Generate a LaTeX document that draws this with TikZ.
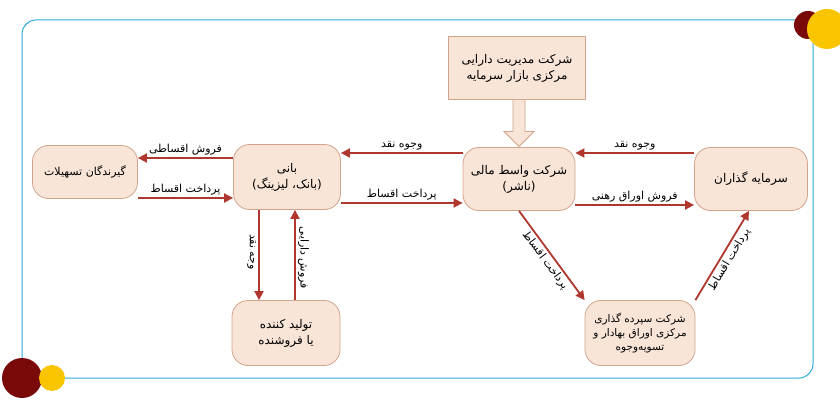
\documentclass[tikz,border=0pt]{standalone}
\usepackage{fontspec}
\newfontfamily\fa[Script=Arabic]{DejaVu Sans}
\TeXXeTstate=1
\usetikzlibrary{arrows.meta,shapes.arrows}
\definecolor{boxfill}{HTML}{F9E4D8}
\definecolor{boxline}{HTML}{D2A48C}
\definecolor{arr}{HTML}{B0372E}
\definecolor{frame}{HTML}{2AAAD8}
\definecolor{dred}{HTML}{7A0A0A}
\definecolor{gold}{HTML}{F9C400}
\newcommand{\R}[1]{\beginR #1\endR}
\begin{document}
\begin{tikzpicture}[x=1pt,y=-1pt,
  ent/.style={draw=boxline,fill=boxfill,rounded corners=16pt,line width=0.8pt,align=center,font=\fa\fontsize{12}{16}\selectfont},
  arrw/.style={draw=arr,line width=1.8pt,-{Triangle[length=9pt,width=9pt]}},
  lab/.style={font=\fa\fontsize{11}{12}\selectfont,text=black,inner sep=2pt}]
\useasboundingbox (0,0) rectangle (840,403);
\draw[frame,line width=1pt,rounded corners=14pt] (22,20) rectangle (813,378);
\fill[dred] (808,25) circle (14);
\fill[gold] (827,29) circle (20);
\fill[dred] (22,378) circle (20);
\fill[gold] (52,378) circle (13);
\node[draw=boxline,fill=boxfill,line width=0.8pt,minimum width=137pt,minimum height=63pt,align=center,font=\fa\fontsize{12}{16}\selectfont] (amc) at (517,68) {\R{شرکت مدیریت دارایی}\\\R{مرکزی بازار سرمایه}};
\node[ent,minimum width=105pt,minimum height=53pt,inner sep=1pt,font=\fa\fontsize{11}{15}\selectfont] (borr) at (85,172) {\R{گیرندگان تسهیلات}};
\node[ent,minimum width=107pt,minimum height=65pt] (bank) at (287,177) {\R{بانی}\\\R{(بانک، لیزینگ)}};
\node[ent,minimum width=112pt,minimum height=63pt] (inter) at (519,179) {\R{شرکت واسط مالی}\\\R{(ناشر)}};
\node[ent,minimum width=113pt,minimum height=63pt] (inv) at (751,179) {\R{سرمایه گذاران}};
\node[ent,minimum width=108pt,minimum height=65pt] (prod) at (286,333) {\R{تولید کننده}\\\R{یا فروشنده}};
\node[ent,minimum width=110pt,minimum height=65pt,inner sep=1pt,font=\fa\fontsize{10.5}{14}\selectfont] (dep) at (640,333) {\R{شرکت سپرده گذاری}\\\R{مرکزی اوراق بهادار و}\\\R{تسویه‌وجوه}};
\node[single arrow,shape border rotate=270,draw=boxline,fill=boxfill,line width=0.8pt,minimum width=30pt,single arrow head extend=5pt,single arrow tip angle=90,minimum height=47pt,anchor=tip,inner sep=3pt] (hol) at (inter.north) {};
\draw[arrw] ([yshift=19pt]bank.west) -- node[lab,above]{\R{فروش اقساطی}} ([yshift=14pt]borr.east);
\draw[arrw] ([yshift=-26pt]borr.east) -- node[lab,above]{\R{پرداخت اقساط}} ([yshift=-21pt]bank.west);
\draw[arrw] ([yshift=26pt]inter.west) -- node[lab,above]{\R{وجوه نقد}} ([yshift=24pt]bank.east);
\draw[arrw] ([yshift=-26pt]bank.east) -- node[lab,above]{\R{پرداخت اقساط}} ([yshift=-24pt]inter.west);
\draw[arrw] ([yshift=26pt]inv.west) -- node[lab,above]{\R{وجوه نقد}} ([yshift=26pt]inter.east);
\draw[arrw] ([yshift=-26pt]inter.east) -- node[lab,above]{\R{فروش اوراق رهنی}} ([yshift=-26pt]inv.west);
\draw[arrw] ([xshift=-28pt]bank.south) -- node[lab,rotate=-90,anchor=north,xshift=-3pt]{\R{وجه نقد}} ([xshift=-27pt]prod.north);
\draw[arrw] ([xshift=9pt]prod.north) -- node[lab,rotate=-90,anchor=south,xshift=3pt]{\R{فروش دارایی}} ([xshift=8pt]bank.south);
\draw[arrw] (inter.south) -- node[lab,sloped,below]{\R{پرداخت اقساط}} (dep.north west);
\draw[arrw] (dep.north east) -- node[lab,sloped,below]{\R{پرداخت اقساط}} ([xshift=-2pt]inv.south);
\end{tikzpicture}
\end{document}
